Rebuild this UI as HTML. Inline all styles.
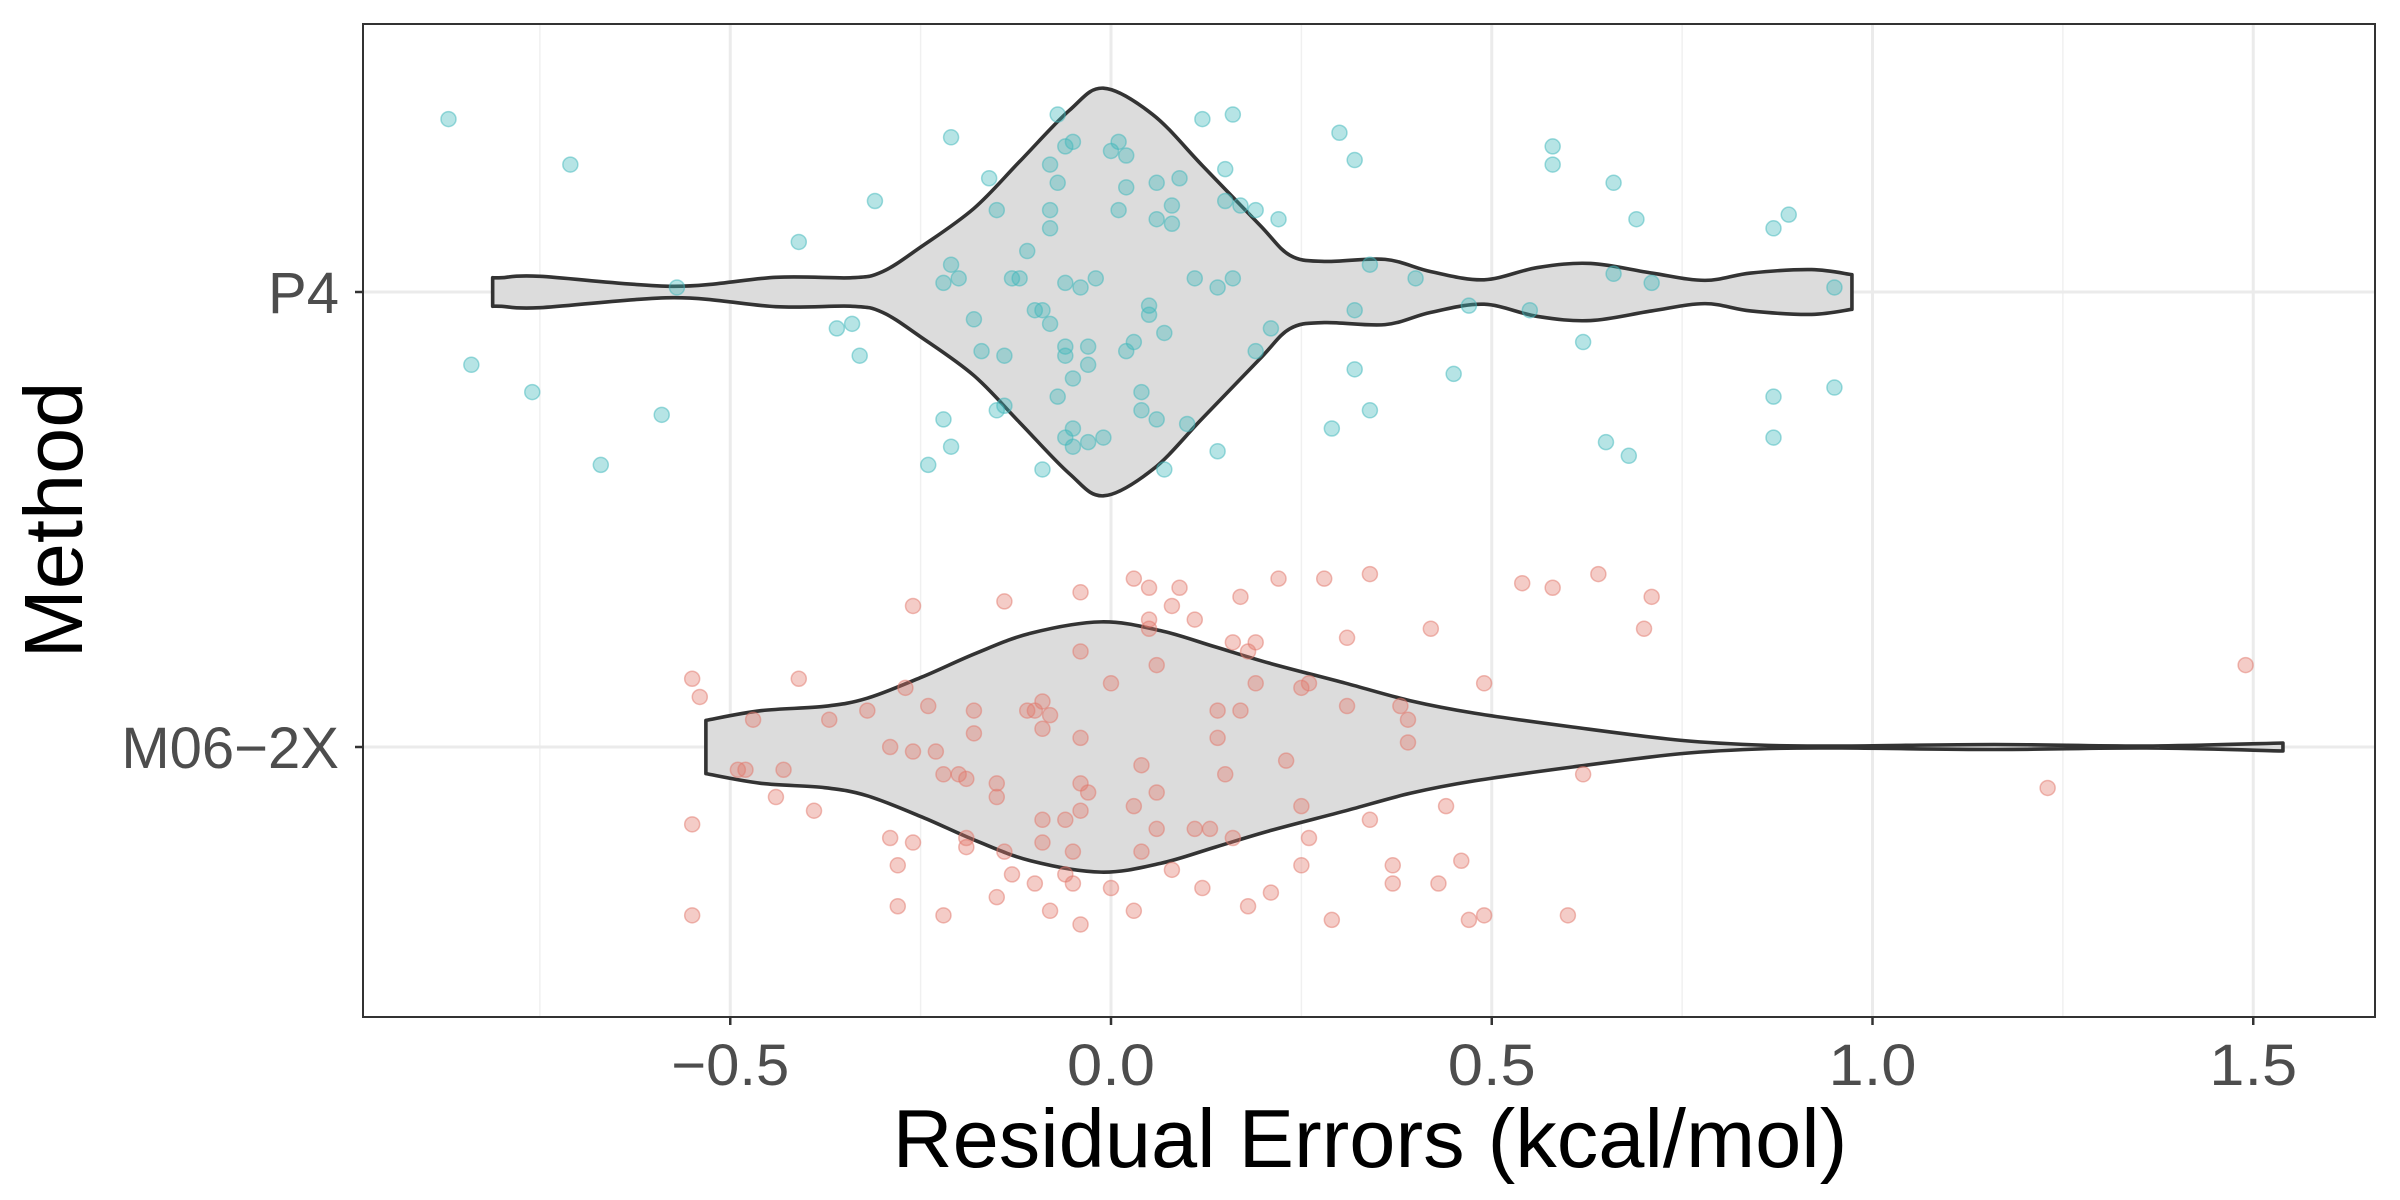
<!DOCTYPE html>
<html><head><meta charset="utf-8">
<style>
html,body{margin:0;padding:0;background:#fff;}
svg{display:block;font-family:"Liberation Sans",Arial,sans-serif;}
</style></head>
<body>
<svg id="chart" width="2400" height="1200" viewBox="0 0 2400 1200" xmlns="http://www.w3.org/2000/svg">
  <rect x="0" y="0" width="2400" height="1200" fill="#fff"/>
  <g id="grid"></g>
  <g id="violins"></g>
  <g id="points"></g>
  <rect x="363" y="24" width="2012" height="993" fill="none" stroke="#333" stroke-width="2"/>
  <g id="axes"></g>
  <text x="1370" y="1167" text-anchor="middle" font-size="83" fill="#000">Residual Errors (kcal/mol)</text>
  <text transform="translate(82,520) rotate(-90)" text-anchor="middle" font-size="83" fill="#000">Method</text>
</svg>
<script>
// ---- data ----
const categories = ["P4", "M06\u22122X"];
const xTicks = [-0.5, 0.0, 0.5, 1.0, 1.5];
const xTickLabels = ["\u22120.5", "0.0", "0.5", "1.0", "1.5"];
const xMinorTicks = [-0.75, -0.25, 0.25, 0.75, 1.25];

const p4DensX = [-0.812,-0.80,-0.75,-0.575,-0.44,-0.34,-0.30,-0.25,-0.18,-0.12,-0.055,-0.01,0.055,0.12,0.195,0.235,0.28,0.36,0.42,0.49,0.56,0.63,0.71,0.78,0.84,0.92,0.973];
const p4DensW = [0.07,0.07,0.077,0.028,0.072,0.07,0.10,0.22,0.41,0.64,0.89,1.0,0.87,0.62,0.33,0.18,0.15,0.16,0.10,0.06,0.12,0.14,0.093,0.057,0.093,0.11,0.085];
const m06DensX = [-0.532,-0.46,-0.376,-0.32,-0.248,-0.177,-0.105,-0.013,0.065,0.137,0.208,0.308,0.393,0.478,0.606,0.749,0.863,0.96,1.16,1.36,1.539];
const m06DensW = [0.213,0.29,0.325,0.39,0.56,0.75,0.91,1.0,0.93,0.8,0.67,0.51,0.37,0.27,0.16,0.053,0.013,0.008,0.02,0.008,0.032];
const violinMaxWidth = [0.448, 0.275];

const p4Values = [-0.87,-0.71,-0.57,-0.84,-0.76,-0.59,-0.67,-0.41,-0.31,-0.36,-0.34,-0.33,-0.21,-0.16,-0.15,-0.22,-0.21,-0.20,-0.18,-0.17,-0.14,-0.22,-0.21,-0.24,-0.15,-0.14,-0.11,-0.12,-0.13,-0.10,-0.09,-0.08,-0.08,-0.08,-0.07,-0.07,-0.06,-0.06,-0.08,-0.06,-0.05,-0.06,-0.07,-0.05,-0.06,-0.05,-0.09,-0.05,-0.04,-0.03,-0.03,-0.02,-0.03,-0.01,0.00,0.01,0.02,0.02,0.01,0.02,0.03,0.05,0.05,0.06,0.06,0.08,0.08,0.06,0.04,0.04,0.07,0.07,0.09,0.10,0.11,0.12,0.15,0.16,0.15,0.14,0.14,0.16,0.17,0.19,0.22,0.19,0.21,0.29,0.30,0.32,0.32,0.32,0.34,0.34,0.40,0.45,0.47,0.55,0.58,0.58,0.62,0.65,0.66,0.66,0.68,0.69,0.71,0.87,0.87,0.87,0.89,0.95,0.95];
const p4Jitter = [-0.38,-0.28,-0.01,0.16,0.22,0.27,0.38,-0.11,-0.20,0.08,0.07,0.14,-0.34,-0.25,-0.18,-0.02,-0.06,-0.03,0.06,0.13,0.14,0.28,0.34,0.38,0.26,0.25,-0.09,-0.03,-0.03,0.04,0.04,-0.18,-0.14,-0.28,-0.24,-0.39,-0.32,-0.02,0.07,0.12,0.19,0.14,0.23,0.30,0.32,0.34,0.39,-0.33,-0.01,0.12,0.16,-0.03,0.33,0.32,-0.31,-0.33,-0.30,-0.23,-0.18,0.13,0.11,0.05,0.03,-0.24,-0.16,-0.19,-0.15,0.28,0.26,0.22,0.09,0.39,-0.25,0.29,-0.03,-0.38,-0.20,-0.39,-0.27,-0.01,0.35,-0.03,-0.19,-0.18,-0.16,0.13,0.08,0.30,-0.35,-0.29,0.04,0.17,-0.06,0.26,-0.03,0.18,0.03,0.04,-0.32,-0.28,0.11,0.33,-0.24,-0.04,0.36,-0.16,-0.02,0.23,-0.14,0.32,-0.17,-0.01,0.21];

const m06Values = [-0.55,-0.54,-0.55,-0.55,-0.47,-0.49,-0.48,-0.44,-0.43,-0.41,-0.39,-0.37,-0.32,-0.29,-0.29,-0.28,-0.28,-0.26,-0.27,-0.26,-0.26,-0.24,-0.23,-0.22,-0.22,-0.20,-0.19,-0.18,-0.18,-0.19,-0.19,-0.15,-0.15,-0.15,-0.14,-0.14,-0.13,-0.10,-0.11,-0.09,-0.09,-0.08,-0.09,-0.09,-0.08,-0.10,-0.06,-0.06,-0.05,-0.05,-0.04,-0.04,-0.04,-0.04,-0.04,-0.04,-0.03,0.00,0.00,0.03,0.03,0.03,0.04,0.04,0.05,0.05,0.05,0.06,0.06,0.06,0.08,0.09,0.08,0.11,0.11,0.12,0.13,0.14,0.14,0.15,0.16,0.17,0.16,0.17,0.18,0.18,0.19,0.19,0.21,0.22,0.23,0.25,0.25,0.26,0.26,0.25,0.29,0.28,0.31,0.31,0.34,0.34,0.37,0.37,0.38,0.39,0.39,0.42,0.43,0.44,0.46,0.47,0.49,0.49,0.54,0.58,0.60,0.62,0.64,0.70,0.71,1.23,1.49];
const m06Jitter = [-0.15,-0.11,0.17,0.37,-0.06,0.05,0.05,0.11,0.05,-0.15,0.14,-0.06,-0.08,0.20,0.00,0.26,0.35,-0.31,-0.13,0.01,0.21,-0.09,0.01,0.37,0.06,0.06,0.07,-0.08,-0.03,0.20,0.22,0.33,0.08,0.11,0.23,-0.32,0.28,-0.08,-0.08,-0.04,-0.10,-0.07,0.16,0.21,0.36,0.30,0.28,0.16,0.30,0.23,0.14,0.08,-0.21,-0.02,-0.34,0.39,0.10,-0.14,0.31,-0.37,0.36,0.13,0.23,0.04,-0.26,-0.35,-0.28,-0.18,0.10,0.18,-0.31,-0.35,0.27,-0.28,0.18,0.31,0.18,-0.08,-0.02,0.06,-0.23,-0.08,0.20,-0.33,0.35,-0.21,-0.23,-0.14,0.32,-0.37,0.03,-0.13,0.13,0.20,-0.14,0.26,0.38,-0.37,-0.24,-0.09,-0.38,0.16,0.26,0.30,-0.09,-0.06,-0.01,-0.26,0.30,0.13,0.25,0.38,-0.14,0.37,-0.36,-0.35,0.37,0.06,-0.38,-0.26,-0.33,0.09,-0.18];

// ---- scales ----
const NS = "http://www.w3.org/2000/svg";
const PL = 363, PR = 2375, PT = 24, PB = 1017;
function xScale(v){ return 1111 + v * 761.5; }
const catPx = 455;
function yScale(i){ return 292 + i * catPx; }
function mk(tag, attrs, parent){
  const e = document.createElementNS(NS, tag);
  for (const k in attrs) e.setAttribute(k, attrs[k]);
  parent.appendChild(e);
  return e;
}
const grid = document.getElementById('grid');
const axes = document.getElementById('axes');
const violins = document.getElementById('violins');
const points = document.getElementById('points');

xMinorTicks.forEach(v => {
  const l = mk('line', {x1: xScale(v), x2: xScale(v), y1: PT, y2: PB, stroke: '#f0f0f0', 'stroke-width': 1.5}, grid);
  
  
});
xTicks.forEach((v, i) => {
  const l = mk('line', {x1: xScale(v), x2: xScale(v), y1: PT, y2: PB, stroke: '#ebebeb', 'stroke-width': 3}, grid);
  
  
  const t = mk('line', {x1: xScale(v), x2: xScale(v), y1: PB, y2: PB + 8, stroke: '#333', 'stroke-width': 2.5}, axes);
  
  
  const tx = mk('text', {x: xScale(v), y: 1085, 'text-anchor': 'middle', 'font-size': 58, fill: '#4d4d4d', textLength: (xTickLabels[i].length === 4 ? 118 : 88), lengthAdjust: 'spacingAndGlyphs'}, axes);
  tx.textContent = xTickLabels[i];
  
  
});
categories.forEach((c, i) => {
  const l = mk('line', {x1: PL, x2: PR, y1: yScale(i), y2: yScale(i), stroke: '#ebebeb', 'stroke-width': 3}, grid);
  
  
  const t = mk('line', {x1: PL - 8, x2: PL, y1: yScale(i), y2: yScale(i), stroke: '#333', 'stroke-width': 2.5}, axes);
  
  
  const tx = mk('text', {x: 339, y: yScale(i) + 21, 'text-anchor': 'end', 'font-size': 58, fill: '#4d4d4d'}, axes);
  tx.textContent = c;
  
  
});

// violins via Catmull-Rom smoothing
function smoothPath(pts){
  let d = 'M' + pts[0][0] + ',' + pts[0][1];
  for (let i = 0; i < pts.length - 1; i++){
    const p0 = pts[Math.max(0, i - 1)], p1 = pts[i], p2 = pts[i + 1], p3 = pts[Math.min(pts.length - 1, i + 2)];
    const c1x = p1[0] + (p2[0] - p0[0]) / 6, c1y = p1[1] + (p2[1] - p0[1]) / 6;
    const c2x = p2[0] - (p3[0] - p1[0]) / 6, c2y = p2[1] - (p3[1] - p1[1]) / 6;
    d += ' C' + c1x + ',' + c1y + ' ' + c2x + ',' + c2y + ' ' + p2[0] + ',' + p2[1];
  }
  return d;
}
function violin(xs, ws, idx, name){
  const cy = yScale(idx), mw = violinMaxWidth[idx] * catPx;
  const top = xs.map((x, k) => [xScale(x), cy - ws[k] * mw]);
  const bot = xs.map((x, k) => [xScale(x), cy + ws[k] * mw]).reverse();
  let d = smoothPath(top);
  d += ' L' + bot[0][0] + ',' + bot[0][1];
  d += smoothPath(bot).replace(/^M[^ ]+/, '');
  d += ' Z';
  const p = mk('path', {d: d, fill: '#dcdcdc', stroke: '#333', 'stroke-width': 3.6, 'stroke-linejoin': 'round'}, violins);
  
  
}
violin(p4DensX, p4DensW, 0, 'violin-p4');
violin(m06DensX, m06DensW, 1, 'violin-m06-2x');

function drawPoints(vals, jit, idx, color, name){
  vals.forEach((v, k) => {
    const c = mk('circle', {cx: xScale(v), cy: yScale(idx) + jit[k] * catPx, r: 7.5, fill: color, 'fill-opacity': 0.38, stroke: color, 'stroke-opacity': 0.5, 'stroke-width': 1.5}, points);
    
    
  });
}
drawPoints(p4Values, p4Jitter, 0, '#3fb8bb', 'point-p4');
drawPoints(m06Values, m06Jitter, 1, '#e1786c', 'point-m06-2x');
</script>
</body></html>
